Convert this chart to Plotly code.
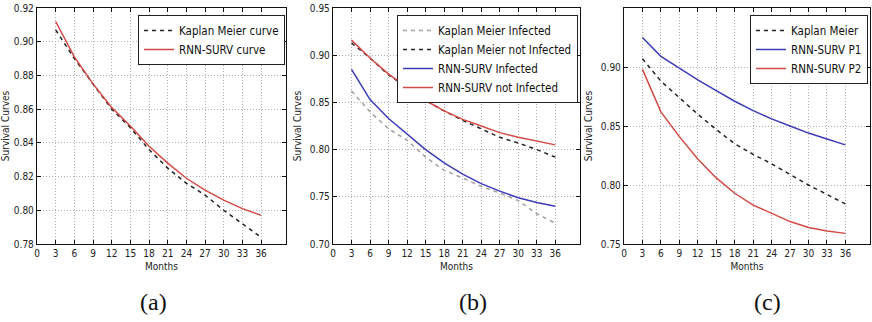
import plotly.graph_objects as go

months = [3, 6, 9, 12, 15, 18, 21, 24, 27, 30, 33, 36]

# Panel (a)
km_a = [0.907, 0.890, 0.875, 0.860, 0.849, 0.836, 0.825, 0.816, 0.809, 0.800, 0.792, 0.784]
rnn_a = [0.912, 0.891, 0.875, 0.861, 0.850, 0.838, 0.828, 0.819, 0.812, 0.806, 0.801, 0.797]

# Panel (b)
km_inf_b = [0.862, 0.840, 0.822, 0.810, 0.792, 0.778, 0.770, 0.761, 0.754, 0.746, 0.732, 0.722]
km_notinf_b = [0.913, 0.897, 0.879, 0.866, 0.852, 0.841, 0.831, 0.822, 0.813, 0.807, 0.800, 0.792]
rnn_inf_b = [0.885, 0.853, 0.833, 0.816, 0.800, 0.786, 0.774, 0.764, 0.756, 0.749, 0.744, 0.740]
rnn_notinf_b = [0.916, 0.897, 0.880, 0.866, 0.852, 0.841, 0.832, 0.825, 0.818, 0.813, 0.809, 0.805]

# Panel (c)
km_c = [0.907, 0.888, 0.874, 0.860, 0.847, 0.835, 0.826, 0.818, 0.809, 0.800, 0.792, 0.784]
p1_c = [0.925, 0.909, 0.899, 0.889, 0.880, 0.871, 0.863, 0.856, 0.850, 0.844, 0.839, 0.834]
p2_c = [0.898, 0.862, 0.841, 0.822, 0.806, 0.793, 0.783, 0.776, 0.769, 0.764, 0.761, 0.759]

x_ticks = [0, 3, 6, 9, 12, 15, 18, 21, 24, 27, 30, 33, 36]
y_ticks_a = [0.78, 0.80, 0.82, 0.84, 0.86, 0.88, 0.90, 0.92]
y_ticks_b = [0.70, 0.75, 0.80, 0.85, 0.90, 0.95]
y_ticks_c = [0.75, 0.80, 0.85, 0.90]
captions = ["(a)", "(b)", "(c)"]

W, H = 872, 322
FONT = "Liberation Sans Narrow, DejaVu Sans Condensed, Arial Narrow, sans-serif"
RED = "#d44a45"
BLUE = "#3c3cb8"
BLACK = "#222222"
GRAY = "#a0a0a0"
DASH = "4px,4px"

fig = go.Figure()

panels = [
    dict(px=(37, 286), yr=(0.78, 0.92), yt=y_ticks_a, fmt="%.2f", legend_right=285, cap_x=153,
         series=[("Kaplan Meier curve", km_a, BLACK, DASH),
                 ("RNN-SURV curve", rnn_a, RED, "solid")]),
    dict(px=(333, 580), yr=(0.70, 0.95), yt=y_ticks_b, fmt="%.2f", legend_right=578, cap_x=473,
         series=[("Kaplan Meier Infected", km_inf_b, GRAY, DASH),
                 ("Kaplan Meier not Infected", km_notinf_b, BLACK, DASH),
                 ("RNN-SURV Infected", rnn_inf_b, BLUE, "solid"),
                 ("RNN-SURV not Infected", rnn_notinf_b, RED, "solid")]),
    dict(px=(624, 870), yr=(0.75, 0.95), yt=y_ticks_c, fmt="%.2f", legend_right=868, cap_x=767,
         series=[("Kaplan Meier", km_c, BLACK, DASH),
                 ("RNN-SURV P1", p1_c, BLUE, "solid"),
                 ("RNN-SURV P2", p2_c, RED, "solid")]),
]

top_px, bot_px = 8, 244
ydom = [(H - bot_px) / H, (H - top_px) / H]

for i, p in enumerate(panels):
    n = "" if i == 0 else str(i + 1)
    leg = "legend" + n
    for name, vals, col, dash in p["series"]:
        fig.add_trace(go.Scatter(
            x=months, y=vals, mode="lines", name=name,
            line=dict(color=col, width=1.5, dash=dash),
            xaxis="x" + n, yaxis="y" + n, legend=leg))
    xdom = [p["px"][0] / W, p["px"][1] / W]
    axcommon = dict(showline=True, linecolor="#111111", linewidth=1.3, mirror="allticks",
                    ticks="inside", ticklen=4, tickcolor="#111111", automargin=False,
                    showgrid=True, gridcolor="#b0b0b0", griddash="1px,2px", gridwidth=1,
                    zeroline=False, tickfont=dict(family=FONT, size=10, color="#222"))
    fig.layout["xaxis" + n] = dict(
        axcommon, domain=xdom, anchor="y" + n, range=[0, 40],
        tickvals=x_ticks, ticktext=[str(v) for v in x_ticks],
        title=dict(text="Months", font=dict(family=FONT, size=10, color="#222"), standoff=4))
    fig.layout["yaxis" + n] = dict(
        axcommon, domain=ydom, anchor="x" + n, range=list(p["yr"]),
        tickvals=p["yt"], ticktext=[p["fmt"] % v for v in p["yt"]],
        title=dict(text="Survival Curves", font=dict(family=FONT, size=10, color="#222"), standoff=6))
    fig.layout[leg] = dict(
        x=p["legend_right"] / W, xanchor="right", y=(H - 15) / H, yanchor="top",
        bgcolor="white", bordercolor="#222", borderwidth=1,
        font=dict(family=FONT, size=11.5, color="#111"), tracegroupgap=0,
        itemwidth=30)
    fig.add_annotation(
        x=p["cap_x"] / W, y=(H - 302) / H, xref="paper", yref="paper",
        xanchor="center", yanchor="middle",
        text=captions[i], showarrow=False,
        font=dict(family="Liberation Serif, DejaVu Serif, serif", size=24, color="#111"))

fig.update_layout(width=W, height=H, margin=dict(l=0, r=0, t=0, b=0, autoexpand=False),
                  paper_bgcolor="white", plot_bgcolor="white", showlegend=True)

fig.write_html("out.html", config={"displayModeBar": False},
               post_script="document.body.style.margin='0';document.body.style.padding='0';")
